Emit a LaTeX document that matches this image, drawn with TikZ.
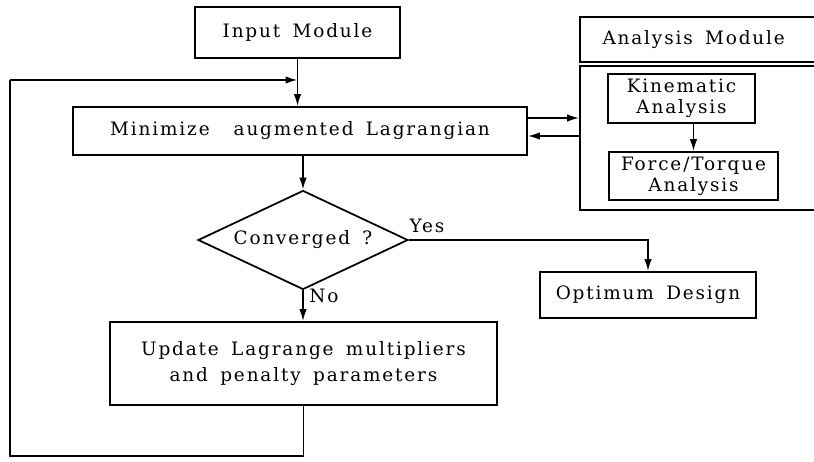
\documentclass[tikz,border=0pt]{standalone}
\usepackage{fontspec}
\setmainfont{DejaVu Serif}[LetterSpace=10,WordSpace=1.6]
\usetikzlibrary{shapes.geometric,arrows.meta,positioning}

\tikzset{
  blok/.style={draw,line width=1pt,rectangle,align=center,inner sep=2pt},
  rombo/.style={draw,line width=1pt,diamond,inner sep=0pt,shape aspect=2.1},
  arr/.style={line width=1pt,-{Latex[length=2.4mm,width=1.5mm]}},
  lin/.style={line width=1pt},
}

\begin{document}
\begin{tikzpicture}[x=0.02cm,y=-0.02cm,font=\fontsize{10.5}{12}\selectfont]
		\useasboundingbox (0,0) rectangle (814,462);
		
		% Cajas principales
		\node[blok,minimum width=4.1cm,minimum height=1.02cm] (input) at (297.5,32.5) {Input Module};
		\node[blok,minimum width=9.08cm,minimum height=0.96cm] (minim) at (300,131) {Minimize\hspace{1.3em}augmented Lagrangian};
		\node[rombo,minimum width=4.2cm,minimum height=1.98cm] (conv) at (303,240) {Converged ?};
		\node[blok,minimum width=7.74cm,minimum height=1.66cm] (update) at (303.5,363.5) {Update Lagrange multipliers\\[3pt] and penalty parameters};
		\node[blok,minimum width=4.32cm,minimum height=0.92cm] (optim) at (648,295) {Optimum Design};
		
		% Modulo de analisis
		\node[blok,minimum width=5.4cm,minimum height=0.9cm,text width=4.5cm,align=flush left,inner xsep=0.4cm] (ahead) at (715,39.5) {Analysis Module};
		\node[blok,minimum width=5.4cm,minimum height=2.88cm] (abody) at (715,138) {};
		\node[blok,minimum width=2.94cm,minimum height=0.98cm] (kin) at (681.5,98.5) {Kinematic\\ Analysis};
		\node[blok,minimum width=3.38cm,minimum height=0.96cm] (force) at (693.5,176) {Force/Torque\\ Analysis};
		
		% Etiquetas
		\node (yes) at (427,226) {Yes};
		\node (no) at (324,296) {No};
		
		% Conexiones
		\coordinate (join) at (input.south |- 0,80);
		\coordinate (low) at (10,456);
		\draw[arr] (input.south) -- (input.south |- minim.north);
		\draw[arr] (conv.north |- minim.south) -- (conv.north);
		\draw[arr] (conv.south) -- (conv.south |- update.north);
		\draw[arr] (conv.east) -| (optim.north);
		\draw[arr] ([yshift=0.26cm]minim.east) -- ([yshift=0.26cm]minim.east -| abody.west);
		\draw[arr] ([yshift=-0.1cm]minim.east -| abody.west) -- ([yshift=-0.1cm]minim.east);
		\draw[arr] (force.north |- kin.south) -- (force.north);
		\draw[lin] (update.south) |- (low) -- (low |- join);
		\draw[arr] (low |- join) -- (join);
		
	\end{tikzpicture}
\end{document}
